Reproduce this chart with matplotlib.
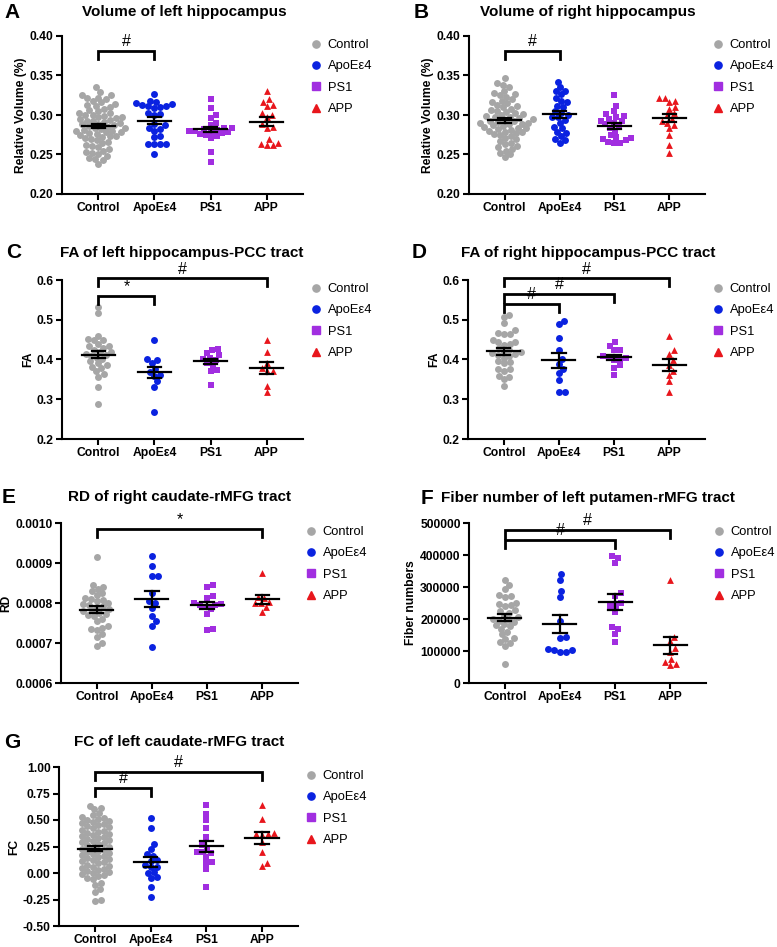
import numpy as np
import matplotlib
matplotlib.use("Agg")
import matplotlib.pyplot as plt
from matplotlib.lines import Line2D

plt.rcParams['font.family'] = ['Liberation Sans', 'DejaVu Sans']

groups = ["Control", "ApoEε4", "PS1", "APP"]
colors = ["#a6a6a6", "#0a22e0", "#a12ee0", "#e8161c"]
markers = ["o", "o", "s", "^"]

# A: volume of left hippocampus
a_ctrl = [0.335, 0.329, 0.325, 0.325, 0.322, 0.321, 0.320, 0.318, 0.316, 0.314, 0.313, 0.312,
          0.310, 0.308, 0.306, 0.305, 0.303, 0.302, 0.300, 0.300, 0.299, 0.298, 0.297, 0.296,
          0.295, 0.294, 0.293, 0.292, 0.291, 0.290, 0.289, 0.288, 0.287, 0.286, 0.285, 0.284,
          0.283, 0.282, 0.281, 0.280, 0.280, 0.279, 0.278, 0.277, 0.276, 0.275, 0.274, 0.273,
          0.272, 0.271, 0.270, 0.268, 0.266, 0.264, 0.262, 0.261, 0.259, 0.257, 0.255, 0.253,
          0.252, 0.250, 0.248, 0.246, 0.244, 0.243, 0.238]
a_apoe = [0.327, 0.318, 0.316, 0.315, 0.314, 0.313, 0.312, 0.311, 0.310, 0.309, 0.302, 0.301,
          0.300, 0.289, 0.287, 0.283, 0.282, 0.280, 0.274, 0.272, 0.263, 0.263, 0.263, 0.263, 0.250]
a_ps1 = [0.320, 0.309, 0.300, 0.296, 0.290, 0.287, 0.284, 0.283, 0.282, 0.281, 0.280, 0.280,
         0.279, 0.278, 0.277, 0.276, 0.275, 0.273, 0.271, 0.253, 0.241]
a_app = [0.330, 0.320, 0.317, 0.313, 0.311, 0.302, 0.300, 0.297, 0.288, 0.285, 0.283, 0.269,
         0.265, 0.263, 0.262, 0.262]

# B: volume of right hippocampus
b_ctrl = [0.347, 0.340, 0.338, 0.335, 0.330, 0.328, 0.326, 0.325, 0.323, 0.320, 0.318, 0.316,
          0.315, 0.313, 0.311, 0.310, 0.308, 0.306, 0.305, 0.304, 0.302, 0.301, 0.300, 0.299,
          0.298, 0.297, 0.296, 0.295, 0.294, 0.293, 0.292, 0.291, 0.290, 0.290, 0.289, 0.288,
          0.287, 0.286, 0.285, 0.284, 0.283, 0.282, 0.281, 0.280, 0.279, 0.278, 0.277, 0.276,
          0.275, 0.273, 0.271, 0.269, 0.267, 0.265, 0.263, 0.261, 0.259, 0.257, 0.255, 0.252,
          0.250, 0.247]
b_apoe = [0.342, 0.335, 0.331, 0.330, 0.326, 0.322, 0.318, 0.316, 0.312, 0.310, 0.305, 0.303,
          0.300, 0.298, 0.297, 0.294, 0.290, 0.285, 0.283, 0.279, 0.277, 0.273, 0.270, 0.268, 0.265]
b_ps1 = [0.325, 0.312, 0.305, 0.301, 0.299, 0.297, 0.295, 0.293, 0.292, 0.290, 0.288, 0.286,
         0.284, 0.280, 0.275, 0.272, 0.271, 0.270, 0.268, 0.266, 0.265, 0.265]
b_app = [0.322, 0.321, 0.318, 0.316, 0.310, 0.307, 0.302, 0.300, 0.295, 0.293, 0.290, 0.287,
         0.283, 0.275, 0.262, 0.252]

# C: FA of left hippocampus-PCC tract
c_ctrl = [0.533, 0.517, 0.460, 0.452, 0.450, 0.448, 0.440, 0.435, 0.433, 0.430, 0.425, 0.420,
          0.418, 0.415, 0.412, 0.410, 0.405, 0.400, 0.395, 0.390, 0.385, 0.381, 0.378, 0.370,
          0.363, 0.356, 0.331, 0.288]
c_apoe = [0.449, 0.400, 0.398, 0.390, 0.377, 0.368, 0.362, 0.358, 0.345, 0.332, 0.268]
c_ps1 = [0.427, 0.423, 0.417, 0.411, 0.405, 0.402, 0.398, 0.392, 0.385, 0.373, 0.371, 0.336]
c_app = [0.450, 0.420, 0.390, 0.378, 0.372, 0.370, 0.333, 0.318]

# D: FA of right hippocampus-PCC tract
d_ctrl = [0.512, 0.507, 0.492, 0.473, 0.467, 0.465, 0.463, 0.448, 0.445, 0.443, 0.440, 0.437,
          0.428, 0.425, 0.420, 0.418, 0.416, 0.414, 0.412, 0.410, 0.405, 0.395, 0.393, 0.390,
          0.376, 0.375, 0.372, 0.358, 0.356, 0.350, 0.333]
d_apoe = [0.497, 0.490, 0.453, 0.425, 0.400, 0.388, 0.375, 0.365, 0.348, 0.318, 0.318]
d_ps1 = [0.443, 0.435, 0.425, 0.424, 0.410, 0.405, 0.403, 0.400, 0.398, 0.385, 0.378, 0.360]
d_app = [0.460, 0.425, 0.415, 0.398, 0.387, 0.372, 0.360, 0.345, 0.318]

# E: RD of right caudate-rMFG tract
e_ctrl = [0.000915, 0.000845, 0.000840, 0.000835, 0.000830, 0.000825, 0.000820, 0.000812,
          0.000810, 0.000808, 0.000805, 0.000800, 0.000798, 0.000795, 0.000792, 0.000790,
          0.000785, 0.000782, 0.000780, 0.000775, 0.000772, 0.000770, 0.000768, 0.000760,
          0.000755, 0.000742, 0.000738, 0.000735, 0.000732, 0.000722, 0.000715, 0.000700, 0.000692]
e_apoe = [0.000917, 0.000893, 0.000868, 0.000867, 0.000824, 0.000805, 0.000800, 0.000787,
          0.000768, 0.000754, 0.000743, 0.000690]
e_ps1 = [0.000845, 0.000840, 0.000818, 0.000812, 0.000800, 0.000798, 0.000796, 0.000795,
         0.000790, 0.000785, 0.000773, 0.000735, 0.000733]
e_app = [0.000875, 0.000815, 0.000812, 0.000802, 0.000800, 0.000799, 0.000790, 0.000778]

# F: fiber number of left putamen-rMFG tract
f_ctrl = [322000, 307000, 293000, 275000, 272000, 268000, 250000, 247000, 244000, 240000,
          228000, 224000, 220000, 210000, 205000, 200000, 198000, 195000, 190000, 185000,
          180000, 177000, 170000, 160000, 152000, 140000, 137000, 128000, 125000, 117000, 60000]
f_apoe = [340000, 322000, 288000, 270000, 195000, 143000, 141000, 107000, 102000, 98000,
          97000, 103000]
f_ps1 = [398000, 392000, 375000, 280000, 272000, 250000, 242000, 240000, 222000, 176000,
         170000, 153000, 128000]
f_app = [322000, 145000, 130000, 108000, 98000, 75000, 66000, 60000, 55000]

# G: FC of left caudate-rMFG tract
g_ctrl = [0.635, 0.615, 0.600, 0.565, 0.545, 0.530, 0.520, 0.510, 0.500, 0.490, 0.480, 0.470,
          0.460, 0.450, 0.440, 0.430, 0.420, 0.410, 0.400, 0.390, 0.380, 0.370, 0.360, 0.350,
          0.340, 0.330, 0.320, 0.310, 0.300, 0.290, 0.280, 0.270, 0.260, 0.250, 0.240, 0.230,
          0.220, 0.210, 0.200, 0.190, 0.180, 0.170, 0.160, 0.150, 0.140, 0.130, 0.120, 0.110,
          0.100, 0.090, 0.080, 0.070, 0.060, 0.050, 0.040, 0.030, 0.020, 0.010, 0.000, -0.010,
          -0.020, -0.030, -0.045, -0.060, -0.090, -0.110, -0.150, -0.180, -0.250, -0.260]
g_apoe = [0.520, 0.425, 0.270, 0.225, 0.175, 0.165, 0.120, 0.115, 0.075, 0.060, 0.055, 0.010,
          0.000, -0.040, -0.050, -0.135, -0.225]
g_ps1 = [0.640, 0.560, 0.500, 0.425, 0.335, 0.260, 0.230, 0.200, 0.195, 0.185, 0.150, 0.100,
         0.095, 0.040, -0.130]
g_app = [0.645, 0.505, 0.375, 0.370, 0.365, 0.360, 0.290, 0.200, 0.090, 0.065]

W, H = 777, 947
fig = plt.figure(figsize=(W / 100, H / 100), dpi=100)
XLIM = (-0.65, 3.65)


def swarm(vals, ypx, xpx, d=5.8):
    vals = np.asarray(vals, float)
    offs = np.zeros(len(vals))
    placed = []
    cands = [0.0]
    for k in range(1, 160):
        cands += [k * 0.5, -k * 0.5]
    for idx in np.argsort(vals):
        y = vals[idx] * ypx
        for c in cands:
            if all((c - px) ** 2 + (y - py) ** 2 >= d * d for px, py in placed):
                break
        placed.append((c, y))
        offs[idx] = c / xpx
    return offs


def panel(rect, data, ylim, yticks, yfmt, ylabel, brackets, letter, lpos, title, tpos):
    left, top, width, height = rect
    ax = fig.add_axes([left / W, 1 - (top + height) / H, width / W, height / H])
    ypx = height / (ylim[1] - ylim[0])
    xpx = width / (XLIM[1] - XLIM[0])
    for i, vals in enumerate(data):
        offs = swarm(vals, ypx, xpx)
        ax.scatter(i + offs, vals, s=25 if markers[i] == "o" else 24, marker=markers[i],
                   color=colors[i], linewidths=0, zorder=2, clip_on=False)
        m = np.mean(vals)
        se = np.std(vals, ddof=1) / np.sqrt(len(vals))
        ax.plot([i - 0.3, i + 0.3], [m, m], color="black", lw=1.6, zorder=3)
        ax.plot([i, i], [m - se, m + se], color="black", lw=1.6, zorder=3)
        for v in (m - se, m + se):
            ax.plot([i - 0.12, i + 0.12], [v, v], color="black", lw=1.6, zorder=3)
    drop = 8 / ypx
    for i, j, yb, lab in brackets:
        ax.plot([i, i, j, j], [yb - drop, yb, yb, yb - drop], color="black", lw=2,
                clip_on=False, solid_joinstyle="miter")
        ax.text((i + j) / 2, yb + 1.5 / ypx, lab, ha="center", va="bottom", fontsize=11.5,
                clip_on=False)
    ax.set_xlim(*XLIM)
    ax.set_ylim(*ylim)
    ax.set_yticks(yticks)
    ax.set_yticklabels([yfmt.format(t) for t in yticks])
    ax.set_xticks(range(4))
    ax.set_xticklabels(groups)
    for lbl in ax.get_xticklabels() + ax.get_yticklabels():
        lbl.set_fontweight("bold")
    ax.tick_params(direction="out", length=4, width=1.5, labelsize=8.7, pad=2)
    for s in ("top", "right"):
        ax.spines[s].set_visible(False)
    for s in ("left", "bottom"):
        ax.spines[s].set_linewidth(1.5)
    ax.set_ylabel(ylabel, fontsize=8.7, fontweight="bold", labelpad=2)
    handles = [Line2D([], [], marker=markers[k], color=colors[k], linestyle="none",
                      markersize=5.2) for k in range(4)]
    ax.legend(handles, groups, loc="upper left",
              bbox_to_anchor=((width + 8) / width, (height - 3) / height),
              frameon=False, fontsize=9.3, handlelength=0.8, handletextpad=0.5,
              labelspacing=0.72, borderpad=0, borderaxespad=0)
    fig.text(lpos[0] / W, 1 - lpos[1] / H, letter, fontsize=15, fontweight="bold",
             ha="left", va="center")
    fig.text(tpos[0] / W, 1 - tpos[1] / H, title, fontsize=11, fontweight="bold",
             ha="center", va="center")
    return ax


panel((62, 36, 241, 158), [a_ctrl, a_apoe, a_ps1, a_app], (0.20, 0.40),
      [0.20, 0.25, 0.30, 0.35, 0.40], "{:.2f}", "Relative Volume (%)",
      [(0, 1, 0.3815, "#")], "A", (4, 12), "Volume of left hippocampus", (184, 12))
panel((469, 36, 236, 158), [b_ctrl, b_apoe, b_ps1, b_app], (0.20, 0.40),
      [0.20, 0.25, 0.30, 0.35, 0.40], "{:.2f}", "Relative Volume (%)",
      [(0, 1, 0.3815, "#")], "B", (414, 12), "Volume of right hippocampus", (588, 12))
panel((62, 280, 241, 159), [c_ctrl, c_apoe, c_ps1, c_app], (0.2, 0.6),
      [0.2, 0.3, 0.4, 0.5, 0.6], "{:.1f}", "FA",
      [(0, 3, 0.604, "#"), (0, 1, 0.560, "*")], "C", (6, 253),
      "FA of left hippocampus-PCC tract", (182, 253))
panel((468, 280, 237, 159), [d_ctrl, d_apoe, d_ps1, d_app], (0.2, 0.6),
      [0.2, 0.3, 0.4, 0.5, 0.6], "{:.1f}", "FA",
      [(0, 3, 0.604, "#"), (0, 2, 0.566, "#"), (0, 1, 0.540, "#")], "D", (412, 253),
      "FA of right hippocampus-PCC tract", (588, 253))
panel((61, 523, 237, 160), [e_ctrl, e_apoe, e_ps1, e_app], (0.0006, 0.0010),
      [0.0006, 0.0007, 0.0008, 0.0009, 0.0010], "{:.4f}", "RD",
      [(0, 3, 0.000985, "*")], "E", (2, 497), "RD of right caudate-rMFG tract", (180, 497))
panel((469, 523, 237, 160), [f_ctrl, f_apoe, f_ps1, f_app], (0, 500000),
      [0, 100000, 200000, 300000, 400000, 500000], "{:.0f}", "Fiber numbers",
      [(0, 3, 479000, "#"), (0, 2, 448000, "#")], "F", (421, 498),
      "Fiber number of left putamen-rMFG tract", (588, 498))
panel((59, 767, 239, 159), [g_ctrl, g_apoe, g_ps1, g_app], (-0.5, 1.0),
      [-0.50, -0.25, 0.00, 0.25, 0.50, 0.75, 1.00], "{:.2f}", "FC",
      [(0, 3, 0.953, "#"), (0, 1, 0.805, "#")], "G", (4, 742),
      "FC of left caudate-rMFG tract", (179, 742))

fig.savefig("out.png", dpi=100)
